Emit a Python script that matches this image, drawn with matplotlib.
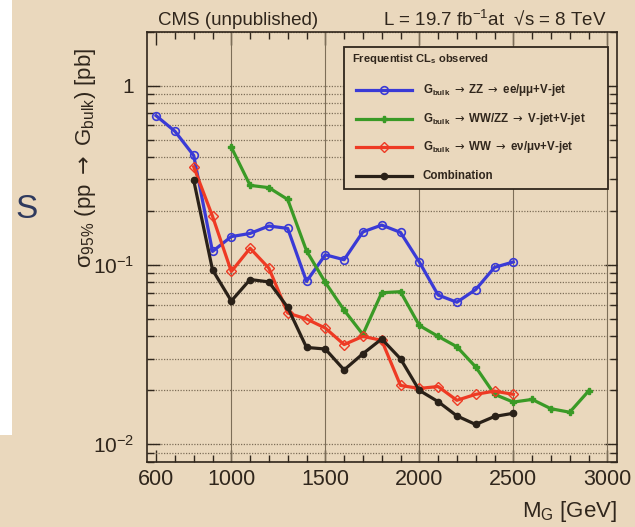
import matplotlib
matplotlib.use("Agg")
import matplotlib.pyplot as plt
from matplotlib.lines import Line2D
from matplotlib.patches import Rectangle
from matplotlib.ticker import FixedLocator, NullFormatter, LogLocator, FixedFormatter

plt.rcParams["font.family"] = ["Liberation Sans", "DejaVu Sans"]
plt.rcParams["mathtext.fontset"] = "custom"
plt.rcParams["mathtext.rm"] = "Liberation Sans"
plt.rcParams["mathtext.it"] = "Liberation Sans:italic"
plt.rcParams["mathtext.bf"] = "Liberation Sans:bold"
plt.rcParams["mathtext.sf"] = "DejaVu Sans"

# Observed 95% CL upper limits on sigma(pp -> G_bulk) [pb] vs. graviton mass [GeV]
mass_zz = [600, 700, 800, 900, 1000, 1100, 1200, 1300, 1400, 1500,
           1600, 1700, 1800, 1900, 2000, 2100, 2200, 2300, 2400, 2500]
limit_zz = [0.68, 0.557, 0.408, 0.119, 0.144, 0.150, 0.165, 0.160, 0.081, 0.114,
            0.107, 0.153, 0.167, 0.152, 0.104, 0.068, 0.062, 0.073, 0.097, 0.104]

mass_vv = [1000, 1100, 1200, 1300, 1400, 1500, 1600, 1700, 1800, 1900,
           2000, 2100, 2200, 2300, 2400, 2500, 2600, 2700, 2800, 2900]
limit_vv = [0.454, 0.278, 0.270, 0.232, 0.120, 0.080, 0.056, 0.041, 0.070, 0.071,
            0.046, 0.040, 0.035, 0.027, 0.019, 0.0172, 0.0178, 0.0158, 0.0151, 0.0198]

mass_ww = [800, 900, 1000, 1100, 1200, 1300, 1400, 1500, 1600, 1700,
           1800, 1900, 2000, 2100, 2200, 2300, 2400, 2500]
limit_ww = [0.353, 0.187, 0.092, 0.124, 0.096, 0.054, 0.050, 0.0445, 0.036, 0.040,
            0.038, 0.0213, 0.0205, 0.021, 0.0176, 0.019, 0.0198, 0.019]

mass_comb = [800, 900, 1000, 1100, 1200, 1300, 1400, 1500, 1600, 1700,
             1800, 1900, 2000, 2100, 2200, 2300, 2400, 2500]
limit_comb = [0.297, 0.094, 0.063, 0.083, 0.0805, 0.058, 0.0347, 0.034, 0.026, 0.032,
              0.0387, 0.030, 0.020, 0.0173, 0.0144, 0.0129, 0.0143, 0.0149]

x_ticks = [600, 1000, 1500, 2000, 2500, 3000]
x_tick_labels = ["600", "1000", "1500", "2000", "2500", "3000"]
y_ticks = [0.01, 0.1, 1]
y_tick_labels = [r"10$^{-2}$", r"10$^{-1}$", "1"]

ARROW = r"$\mathsf{\rightarrow}$"
legend_title = r"Frequentist CL$_{\mathbf{s}}$ observed"
legend_labels = [
    r"G$_{\mathbf{bulk}}$ " + ARROW + " ZZ " + ARROW + " ee/μμ+V-jet",
    r"G$_{\mathbf{bulk}}$ " + ARROW + " WW/ZZ " + ARROW + " V-jet+V-jet",
    r"G$_{\mathbf{bulk}}$ " + ARROW + " WW " + ARROW + " eν/μν+V-jet",
    "Combination",
]

BG = "#EAD8BD"
INK = "#30261c"
W, H = 635, 527

blue = "#3a3ad6"
green = "#3a9a26"
red = "#ee3a24"
black = "#2a2118"

fig = plt.figure(figsize=(W / 100, H / 100), dpi=100, facecolor=BG)


def fx(px):
    return px / W


def fy(py):
    return 1 - py / H


# white strip of the slide at the far left, and a stray letter
fig.patches.append(Rectangle((0, fy(435)), fx(12), 435 / H, transform=fig.transFigure,
                             facecolor="white", edgecolor="none", zorder=0))
fig.text(fx(15), fy(218), "S", fontsize=24, color="#2f3a5e", ha="left", va="baseline")

ax = fig.add_axes([fx(146.7), fy(461.7), fx(616.7 - 146.7), (461.7 - 31.7) / H])
ax.set_facecolor(BG)
ax.set_yscale("log")
ax.set_xlim(550, 3050)
ax.set_ylim(0.008, 2.0)

# grid: solid verticals at the round masses, dotted horizontals on every log tick
for xv in x_ticks[1:]:
    ax.axvline(xv, color="#7d6e58", lw=0.8, zorder=1)
ax.yaxis.set_major_locator(FixedLocator(y_ticks))
ax.yaxis.set_major_formatter(FixedFormatter(y_tick_labels))
ax.yaxis.set_minor_locator(LogLocator(base=10, subs=range(2, 10)))
ax.yaxis.set_minor_formatter(NullFormatter())
ax.grid(axis="y", which="both", color="#7d6e58", lw=0.9, linestyle=(0, (1, 1.2)), zorder=1)
ax.set_axisbelow(True)

ax.xaxis.set_major_locator(FixedLocator(x_ticks))
ax.xaxis.set_major_formatter(FixedFormatter(x_tick_labels))
ax.xaxis.set_minor_locator(FixedLocator(list(range(600, 3050, 100))))

ax.tick_params(which="both", direction="in", top=True, right=True, colors=INK, width=1.0)
ax.tick_params(which="major", length=9)
ax.tick_params(which="minor", length=5)
ax.tick_params(axis="x", which="major", labelsize=15.5, pad=5)
ax.tick_params(axis="y", which="major", labelsize=15, pad=9)
for s in ax.spines.values():
    s.set_color(INK)
    s.set_linewidth(1.2)

lw = 2.3
ax.plot(mass_zz, limit_zz, color=blue, lw=lw, marker="o", ms=5.5, mfc="none",
        mec=blue, mew=1.2, zorder=3)
ax.plot(mass_vv, limit_vv, color=green, lw=lw, marker="P", ms=5, mfc=green,
        mec=green, zorder=3)
ax.plot(mass_ww, limit_ww, color=red, lw=lw, marker="D", ms=5, mfc="none",
        mec=red, mew=1.0, zorder=3)
ax.plot(mass_comb, limit_comb, color=black, lw=lw, marker="o", ms=4.5, mfc=black,
        mec=black, zorder=4)

# legend box drawn in figure pixels
fig.patches.append(Rectangle((fx(344), fy(189.3)), fx(608.3 - 344), (189.3 - 47.3) / H,
                             transform=fig.transFigure, facecolor=BG, edgecolor=INK,
                             lw=1.3, zorder=5))
fig.text(fx(352), fy(59), legend_title, fontsize=8, fontweight="bold", color=INK,
         ha="left", va="center", zorder=6)
styles = [
    dict(color=blue, marker="o", ms=5.5, mfc="none", mec=blue, mew=1.2),
    dict(color=green, marker="P", ms=5, mfc=green, mec=green),
    dict(color=red, marker="D", ms=5, mfc="none", mec=red, mew=1.0),
    dict(color=black, marker="o", ms=4.5, mfc=black, mec=black),
]
rows = [90, 118.7, 147, 176.3]
for label, st, ry in zip(legend_labels, styles, rows):
    fig.add_artist(Line2D([fx(356), fx(412)], [fy(ry), fy(ry)], lw=lw,
                          transform=fig.transFigure, zorder=6, color=st["color"]))
    fig.add_artist(Line2D([fx(384)], [fy(ry)], lw=0, transform=fig.transFigure,
                          zorder=7, **st))
    fig.text(fx(423), fy(ry), label, fontsize=8.3, fontweight="bold", color=INK,
             ha="left", va="center", zorder=6)

# headers and axis titles
fig.text(fx(158), fy(25), "CMS (unpublished)", fontsize=13.5, color=INK,
         ha="left", va="baseline")
fig.text(fx(607), fy(25), r"L = 19.7 fb$^{-1}$at  √s = 8 TeV", fontsize=13.5,
         color=INK, ha="right", va="baseline")
fig.text(fx(85), fy(48), r"σ$_{95\%}$ (pp " + ARROW + r" G$_{\mathrm{bulk}}$) [pb]",
         fontsize=16, color=INK, rotation=90, ha="center", va="top")
fig.text(fx(617), fy(517), r"M$_{\mathrm{G}}$ [GeV]", fontsize=16, color=INK,
         ha="right", va="baseline")

fig.savefig("out.png", dpi=100, facecolor=BG)
